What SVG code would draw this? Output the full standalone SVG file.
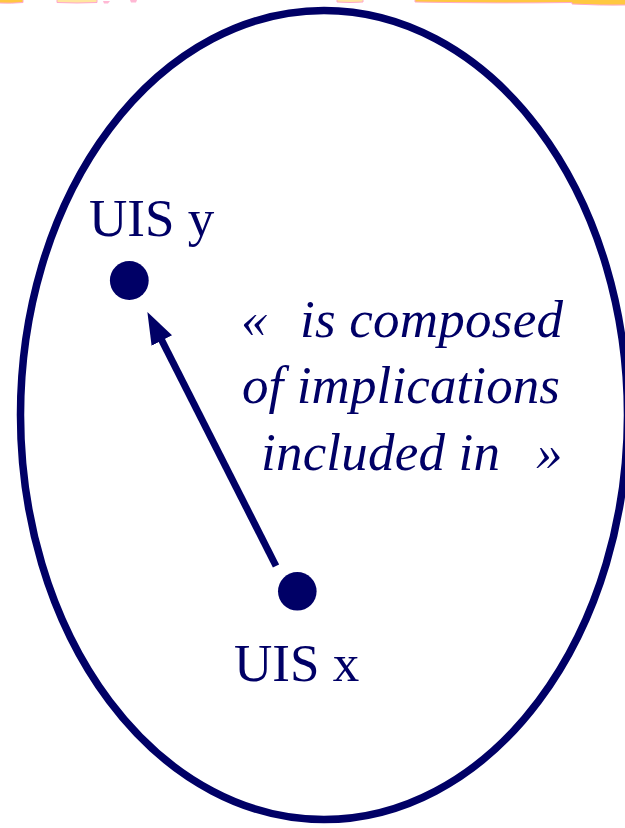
<svg xmlns="http://www.w3.org/2000/svg" width="625" height="828" viewBox="0 0 625 828">
  <style>
    .navy { fill: #000066; }
    .label { font-family: "Liberation Serif", "Times New Roman", serif; font-size: 53px; fill: #000066; }
    .ital { font-family: "Liberation Serif", "Times New Roman", serif; font-size: 53px; font-style: italic; fill: #000066; }
    .conn { stroke: #000066; stroke-width: 7; fill: none; }
    .deco { fill: #FFC840; stroke: #FFA8CC; stroke-width: 1; }
    .deco-light { fill: #FFE7A0; stroke: #FFA8CC; stroke-width: 1; }
  </style>
  <defs>
    <marker id="arrow" markerUnits="userSpaceOnUse" viewBox="0 0 32 23" markerWidth="32" markerHeight="23" refX="1" refY="11.5" orient="auto">
      <path d="M0,0 L32,11.5 L0,23 z" fill="#000066"/>
    </marker>
  </defs>
  <rect x="0" y="0" width="625" height="828" fill="#ffffff"/>

  <!-- cut-off decoration at top edge -->
  <g id="top-decoration">
    <path class="deco" d="M-1,-1 L23,-1 L23,2.5 Q12,3.5 -1,3 z"/>
    <path class="deco-light" d="M57,-1 L97,-1 L97,2.5 Q77,3.5 57,2.5 z"/>
    <path d="M103,1 L110,1 L108,3.5 L104,3.5 z" fill="#FFB8D4"/>
    <path d="M130,0 L137,0 L136,2.5 L131,2.5 z" fill="#FFB8D4"/>
    <path class="deco-light" d="M337,-1 L363,-1 L363,2 Q350,3 337,2 z"/>
    <path class="deco" d="M415,-1 L626,-1 L626,5 Q600,5.5 572,4 L572,2.5 Q500,3.5 415,2 z"/>
  </g>

  <g id="container">
    <ellipse cx="324" cy="415" rx="303.5" ry="404.5" fill="none" stroke="#000066" stroke-width="7.5"/>
  </g>

  <g id="connectors">
    <line class="conn" x1="276" y1="566" x2="161.4" y2="339.6" marker-end="url(#arrow)"/>
  </g>

  <g id="uis-y">
    <circle class="navy" cx="129.3" cy="280.5" r="19.4"/>
    <text class="label" x="89" y="235.5">UIS y</text>
  </g>

  <g id="uis-x">
    <circle class="navy" cx="297.3" cy="591.3" r="19.3"/>
    <text class="label" x="234" y="680.5">UIS x</text>
  </g>

  <g id="relation-label">
    <text class="ital" x="241" y="336.5">«</text>
    <text class="ital" x="300" y="336.5" textLength="263" lengthAdjust="spacing">is composed</text>
    <text class="ital" x="242" y="403" textLength="318" lengthAdjust="spacing">of implications</text>
    <text class="ital" x="261" y="470" textLength="239" lengthAdjust="spacing">included in</text>
    <text class="ital" x="536" y="470">»</text>
  </g>
</svg>
